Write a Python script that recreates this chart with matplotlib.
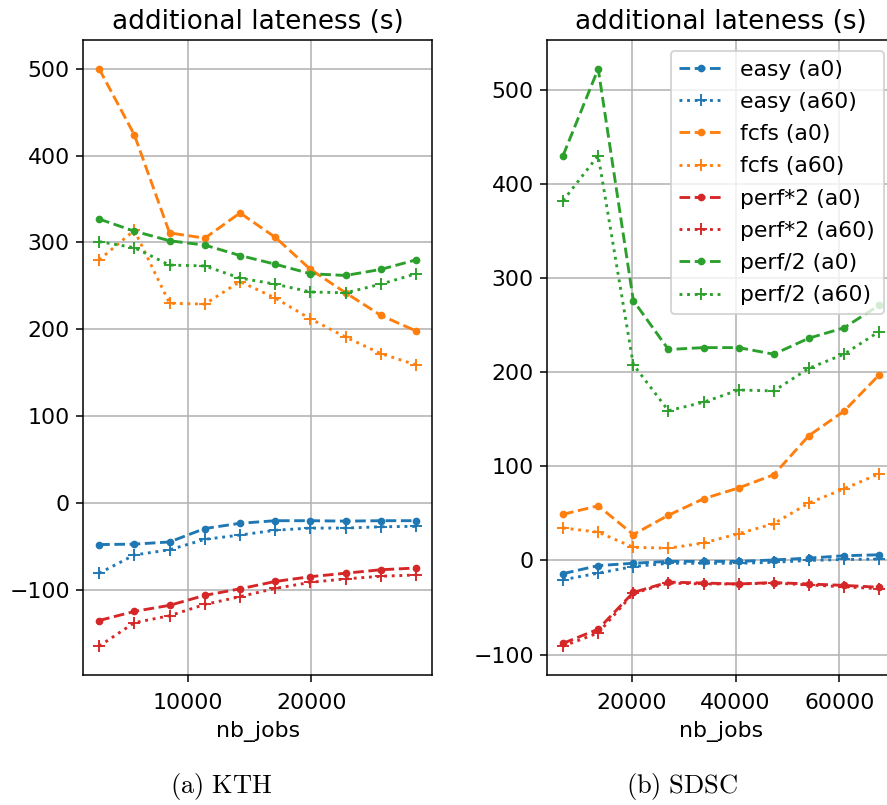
import numpy as np
import matplotlib
matplotlib.use('Agg')
import matplotlib.pyplot as plt

# KTH
kth_jobs = [2849, 5698, 8547, 11396, 14245, 17094, 19943, 22792, 25641, 28490]
kth_easy_a0 = [-48, -47.5, -45, -29.5, -23.5, -20.5, -20.5, -21, -20.5, -20.5]
kth_easy_a60 = [-81, -60, -54, -42, -37, -31.5, -29, -29, -27.5, -27]
kth_fcfs_a0 = [500, 424, 311, 305, 334, 306, 269, 242, 216, 198]
kth_fcfs_a60 = [280, 314, 230, 229, 255, 236, 212, 191, 172, 159]
kth_perf2x_a0 = [-135.5, -125, -118, -106.5, -99, -90.5, -85, -81, -77, -75]
kth_perf2x_a60 = [-165, -138, -130, -117, -108, -98.5, -91.5, -87.5, -84.5, -83]
kth_perfhalf_a0 = [327, 313, 302, 297, 285, 275, 264, 262, 269, 280]
kth_perfhalf_a60 = [301, 294, 274, 273, 259, 252, 243, 242, 252, 264]

# SDSC
sdsc_jobs = [6767, 13534, 20301, 27068, 33835, 40602, 47369, 54136, 60903, 67670]
sdsc_easy_a0 = [-14, -5.5, -3, -1, -1, -1, 0.5, 2.5, 5, 6]
sdsc_easy_a60 = [-20.5, -13.5, -6.5, -3, -3, -3, -2, 0, 1, 1.5]
sdsc_fcfs_a0 = [49, 58, 27.5, 48, 65.5, 77, 91, 132.5, 158.5, 197]
sdsc_fcfs_a60 = [34.5, 30, 14, 13, 18.5, 28.5, 39, 61, 76, 92]
sdsc_perf2x_a0 = [-88, -73, -34, -23, -24, -25, -23.5, -25, -26.5, -28.5]
sdsc_perf2x_a60 = [-91, -77, -35, -24, -25, -25, -24, -26, -28, -30]
sdsc_perfhalf_a0 = [430, 522, 276, 224, 226, 226, 219, 236, 247, 271]
sdsc_perfhalf_a60 = [382, 430, 208, 159, 168, 181, 180, 204, 219, 243]

labels = ['easy (a0)', 'easy (a60)', 'fcfs (a0)', 'fcfs (a60)',
          'perf*2 (a0)', 'perf*2 (a60)', 'perf/2 (a0)', 'perf/2 (a60)']
colors = ['C0', 'C0', 'C1', 'C1', 'C3', 'C3', 'C2', 'C2']

plt.rcParams['xtick.labelsize'] = 11.5
plt.rcParams['ytick.labelsize'] = 11.5
plt.rcParams['xtick.major.pad'] = 6
plt.rcParams['axes.labelsize'] = 11.5
plt.rcParams['axes.titlesize'] = 13.7
plt.rcParams['legend.fontsize'] = 11.4

dpi = 138
fig = plt.figure(figsize=(887 / dpi, 805 / dpi), dpi=dpi)

ax1 = fig.add_axes([0.0939, 0.1615, 0.3931, 0.7888])
ax2 = fig.add_axes([0.6170, 0.1615, 0.3919, 0.7888])


def draw(ax, x, series, legend=False):
    for i, y in enumerate(series):
        if i % 2 == 0:
            ax.plot(x, y, linestyle='--', marker='.', color=colors[i], label=labels[i])
        else:
            ax.plot(x, y, linestyle=':', marker='+', color=colors[i], label=labels[i])
    ax.grid(True)
    ax.set_title('additional lateness (s)')
    ax.set_xlabel('nb_jobs')
    if legend:
        ax.legend(loc='upper right', labelspacing=0.56)


draw(ax1, kth_jobs, [kth_easy_a0, kth_easy_a60, kth_fcfs_a0, kth_fcfs_a60,
                     kth_perf2x_a0, kth_perf2x_a60, kth_perfhalf_a0, kth_perfhalf_a60])
draw(ax2, sdsc_jobs, [sdsc_easy_a0, sdsc_easy_a60, sdsc_fcfs_a0, sdsc_fcfs_a60,
                      sdsc_perf2x_a0, sdsc_perf2x_a60, sdsc_perfhalf_a0, sdsc_perfhalf_a60],
     legend=True)

ax1.set_xticks([10000, 20000])
ax2.set_xticks([20000, 40000, 60000])

fig.text(221 / 887, 1 - 787 / 805, r'$\mathrm{(a)\ KTH}$', math_fontfamily='cm',
         fontsize=13.8, ha='center', va='center')
fig.text(682 / 887, 1 - 787 / 805, r'$\mathrm{(b)\ SDSC}$', math_fontfamily='cm',
         fontsize=13.8, ha='center', va='center')

fig.savefig('out.png', dpi=dpi)
